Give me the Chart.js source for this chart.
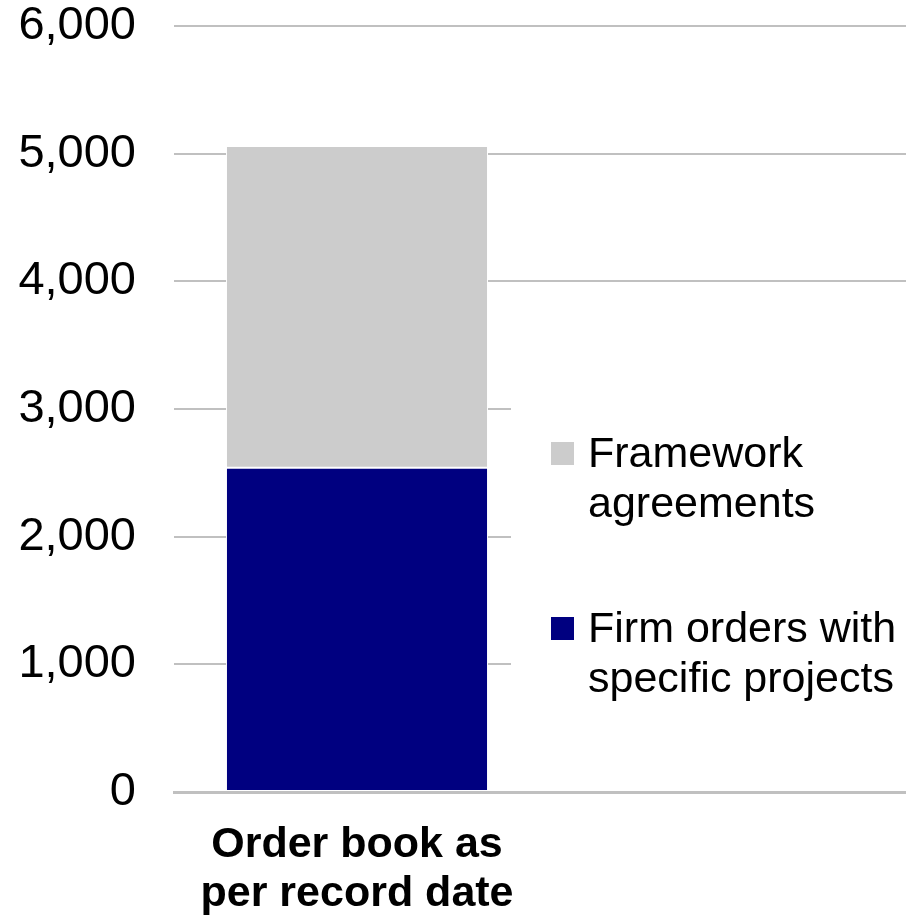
<!DOCTYPE html>
<html>
<head>
<meta charset="utf-8">
<script src="https://cdn.jsdelivr.net/npm/chart.js@4.4.1/dist/chart.umd.min.js"></script>
<style>
  html, body { margin: 0; padding: 0; background: #ffffff; }
  #wrap { position: relative; width: 906px; height: 920px; }
</style>
</head>
<body>
<div id="wrap"><canvas id="c" width="906" height="920"></canvas></div>
<script>
// Order book composition (units as shown on the value axis)
const categories = [['Order book as', 'per record date'], ''];
const firmOrders = [2540, null];
const frameworkAgreements = [2520, null];
const yTicks = [0, 1000, 2000, 3000, 4000, 5000, 6000];

const seriesNames = ['Firm orders with specific projects', 'Framework agreements'];
const legendLines = {
  'Framework agreements': ['Framework', 'agreements'],
  'Firm orders with specific projects': ['Firm orders with', 'specific projects']
};

const FONT = "'Liberation Sans', Arial, Helvetica, sans-serif";
const NAVY = '#000080';
const GREY = '#cccccc';

// Legend drawn on a white panel on the right side of the plot
const sideLegend = {
  id: 'sideLegend',
  afterDraw(chart) {
    const ctx = chart.ctx;
    ctx.save();
    ctx.fillStyle = '#ffffff';
    ctx.fillRect(511, 300, 395, 460);
    const items = [
      { ds: chart.data.datasets[1], y: 453 },
      { ds: chart.data.datasets[0], y: 628 }
    ];
    ctx.font = '43px ' + FONT;
    ctx.textBaseline = 'alphabetic';
    ctx.textAlign = 'left';
    items.forEach(it => {
      ctx.fillStyle = it.ds.backgroundColor;
      ctx.fillRect(551, it.y - 11, 23, 23);
      ctx.fillStyle = '#000000';
      const lines = legendLines[it.ds.label];
      lines.forEach((ln, i) => ctx.fillText(ln, 588, it.y + 14 + i * 50));
    });
    ctx.restore();
  }
};

new Chart(document.getElementById('c'), {
  type: 'bar',
  data: {
    labels: categories,
    datasets: [
      {
        label: seriesNames[0],
        data: firmOrders,
        backgroundColor: NAVY,
        borderColor: '#ffffff',
        borderWidth: 1,
        borderSkipped: false
      },
      {
        label: seriesNames[1],
        data: frameworkAgreements,
        backgroundColor: GREY,
        borderColor: '#ffffff',
        borderWidth: 1,
        borderSkipped: false
      }
    ]
  },
  options: {
    responsive: false,
    devicePixelRatio: 1,
    animation: false,
    layout: { padding: { top: 0, right: 0, bottom: 0, left: 0 } },
    datasets: { bar: { categoryPercentage: 1.0, barPercentage: 0.716 } },
    plugins: {
      legend: { display: false },
      tooltip: { enabled: false }
    },
    scales: {
      x: {
        stacked: true,
        grid: { display: false },
        border: { display: true, color: '#c0c0c0', width: 3 },
        ticks: {
          color: '#000000',
          font: { family: FONT, size: 43, weight: 'bold', lineHeight: 1.15 },
          maxRotation: 0,
          autoSkip: false,
          padding: 20
        },
        afterFit(scale) { scale.height = 128; }
      },
      y: {
        stacked: true,
        min: 0,
        max: 6000,
        afterBuildTicks(scale) { scale.ticks = yTicks.map(v => ({ value: v })); },
        grid: { color: '#c0c0c0', lineWidth: 2, drawTicks: false },
        border: { display: false },
        ticks: {
          color: '#000000',
          font: { family: FONT, size: 47 },
          padding: 38
        },
        afterFit(scale) {
          scale.width = 174;
          scale.paddingTop = 26;
          scale.paddingBottom = 0;
        }
      }
    }
  },
  plugins: [sideLegend]
});
</script>
</body>
</html>
